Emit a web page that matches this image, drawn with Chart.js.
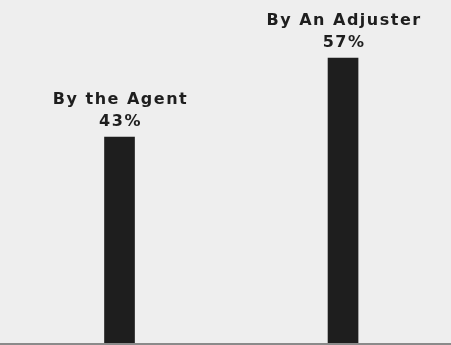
<!DOCTYPE html>
<html>
<head>
<meta charset="utf-8">
<script src="https://cdn.jsdelivr.net/npm/chart.js@4/dist/chart.umd.min.js"></script>
<style>
  html, body { margin: 0; padding: 0; background: #eeeeee; }
  #wrap { width: 451px; height: 345px; position: relative; }
</style>
</head>
<body>
<div id="wrap"><canvas id="c" width="451" height="345"></canvas></div>
<script>
const categories = ["By the Agent", "By An Adjuster"];
const percentLabels = ["43%", "57%"];
const values = [43, 57];

const labelPlugin = {
  id: 'barLabels',
  beforeDraw(chart) {
    const ctx = chart.ctx;
    ctx.save();
    ctx.fillStyle = '#eeeeee';
    ctx.fillRect(0, 0, chart.width, chart.height);
    ctx.restore();
  },
  afterDatasetsDraw(chart) {
    const ctx = chart.ctx;
    const meta = chart.getDatasetMeta(0);
    ctx.save();
    ctx.fillStyle = '#1e1e1e';
    ctx.font = 'bold 16px "DejaVu Sans"';
    ctx.letterSpacing = '1.5px';
    ctx.textAlign = 'center';
    ctx.textBaseline = 'alphabetic';
    meta.data.forEach((bar, i) => {
      const x = bar.x + 1;
      const top = bar.y;
      ctx.fillText(percentLabels[i], x, top - 11);
      ctx.fillText(categories[i], x, top - 33);
    });
    // baseline
    ctx.strokeStyle = '#8a8a8a';
    ctx.lineWidth = 2;
    const yb = chart.chartArea.bottom + 1;
    ctx.beginPath();
    ctx.moveTo(0, yb);
    ctx.lineTo(chart.width, yb);
    ctx.stroke();
    ctx.restore();
  }
};

new Chart(document.getElementById('c'), {
  type: 'bar',
  data: {
    datasets: [{
      data: values.map((v, i) => ({ x: i, y: v })),
      backgroundColor: '#1e1e1e',
      borderWidth: 0,
      barThickness: 30
    }]
  },
  options: {
    responsive: false,
    animation: false,
    devicePixelRatio: 1,
    layout: { padding: { left: 0, right: 0, top: 0, bottom: 2 } },
    plugins: { legend: { display: false }, tooltip: { enabled: false } },
    scales: {
      x: { type: 'linear', display: false, offset: false, min: -0.5347, max: 1.483 },
      y: { display: false, min: 6.5, max: 67.3 }
    }
  },
  plugins: [labelPlugin]
});
</script>
</body>
</html>
